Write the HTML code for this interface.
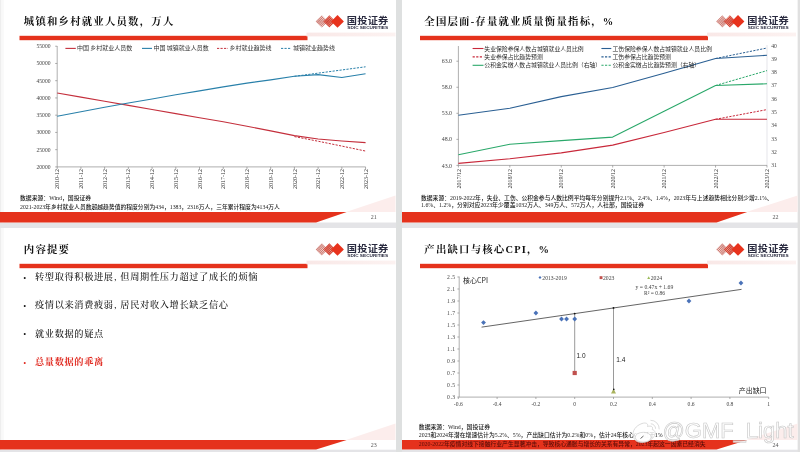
<!DOCTYPE html>
<html><head><meta charset="utf-8"><title>slides</title>
<style>html,body{margin:0;padding:0;background:#dcdcde;}body{width:800px;height:452px;overflow:hidden;}svg{display:block;}</style>
</head><body>
<svg width="800" height="452" viewBox="0 0 800 452">
<defs>
<pattern id="hatchA" patternUnits="userSpaceOnUse" width="1.6" height="1.6" patternTransform="rotate(45)">
<rect width="1.6" height="1.6" fill="#f7e0dc"/><rect width="0.5" height="1.6" fill="#b85048"/><rect width="1.6" height="0.45" fill="#c86a60"/></pattern>
<pattern id="hatchB" patternUnits="userSpaceOnUse" width="1.6" height="1.6" patternTransform="rotate(45)">
<rect width="1.6" height="1.6" fill="#f0a090"/><rect width="0.7" height="1.6" fill="#c8302a"/><rect width="1.6" height="0.6" fill="#d0402e"/></pattern>
<linearGradient id="pinkband" x1="0" x2="1" y1="0" y2="0"><stop offset="0" stop-color="#f9e8e7"/><stop offset="1" stop-color="#fcf2f1"/></linearGradient>
</defs>
<rect x="0.00" y="0.00" width="800.00" height="452.00" fill="#e4e4e7" />
<rect x="396.00" y="0.00" width="6.00" height="452.00" fill="#dee0e0" />
<rect x="797.60" y="0.00" width="2.40" height="452.00" fill="#e0e0e0" />
<rect x="0.00" y="0.00" width="396.00" height="222.50" fill="#fff" />
<rect x="402.00" y="0.00" width="395.60" height="222.50" fill="#fff" />
<rect x="0.00" y="228.00" width="396.00" height="221.70" fill="#fff" />
<rect x="402.00" y="228.00" width="395.60" height="221.70" fill="#fff" />
<rect x="0.00" y="0.00" width="1.40" height="222.50" fill="#eeeeee" />
<rect x="1.40" y="0.00" width="2.40" height="222.50" fill="#f9f9f9" />
<rect x="0.00" y="228.00" width="1.40" height="221.70" fill="#eeeeee" />
<rect x="1.40" y="228.00" width="2.40" height="221.70" fill="#f9f9f9" />
<text x="23.80" y="25.20" font-size="10.4" fill="#111" font-family="'Liberation Serif','Noto Serif CJK SC',serif" font-weight="bold" text-anchor="start" letter-spacing="1.2">城镇和乡村就业人员数，万人</text>
<rect x="19.50" y="35.80" width="288.00" height="4.40" fill="#e5321c" />
<rect x="306.50" y="32.60" width="89.00" height="3.80" fill="url(#pinkband)" />
<path d="M315.60,21.40 L321.80,15.20 L328.00,21.40 L321.80,27.60 Z" fill="url(#hatchA)"/>
<path d="M323.20,21.40 L329.40,15.20 L335.60,21.40 L329.40,27.60 Z" fill="url(#hatchB)"/>
<path d="M331.10,21.40 L337.50,15.00 L343.90,21.40 L337.50,27.80 Z" fill="#e8321c"/>
<text transform="translate(346.80,23.75) scale(1.1,1)" font-size="9.3" fill="#2a2b40" font-family="'Noto Sans CJK SC',sans-serif" font-weight="bold" letter-spacing="0.2">国投证券</text>
<text x="347.30" y="28.50" font-size="4.3" fill="#2a2b40" font-family="'Liberation Sans','Noto Sans CJK SC',sans-serif" font-weight="bold" text-anchor="start" textLength="40.8" lengthAdjust="spacingAndGlyphs">SDIC SECURITIES</text>
<line x1="57.20" y1="46.00" x2="57.20" y2="167.20" stroke="#9a9a9a" stroke-width="0.8"/>
<line x1="57.20" y1="166.90" x2="365.60" y2="166.90" stroke="#9a9a9a" stroke-width="0.8"/>
<line x1="55.20" y1="166.90" x2="57.20" y2="166.90" stroke="#8a8a8a" stroke-width="0.7"/>
<text x="50.50" y="168.90" font-size="5.6" fill="#444" font-family="'Liberation Serif','Noto Serif CJK SC',serif" font-weight="normal" text-anchor="end" >20000</text>
<line x1="55.20" y1="149.66" x2="57.20" y2="149.66" stroke="#8a8a8a" stroke-width="0.7"/>
<text x="50.50" y="151.66" font-size="5.6" fill="#444" font-family="'Liberation Serif','Noto Serif CJK SC',serif" font-weight="normal" text-anchor="end" >25000</text>
<line x1="55.20" y1="132.42" x2="57.20" y2="132.42" stroke="#8a8a8a" stroke-width="0.7"/>
<text x="50.50" y="134.42" font-size="5.6" fill="#444" font-family="'Liberation Serif','Noto Serif CJK SC',serif" font-weight="normal" text-anchor="end" >30000</text>
<line x1="55.20" y1="115.18" x2="57.20" y2="115.18" stroke="#8a8a8a" stroke-width="0.7"/>
<text x="50.50" y="117.18" font-size="5.6" fill="#444" font-family="'Liberation Serif','Noto Serif CJK SC',serif" font-weight="normal" text-anchor="end" >35000</text>
<line x1="55.20" y1="97.94" x2="57.20" y2="97.94" stroke="#8a8a8a" stroke-width="0.7"/>
<text x="50.50" y="99.94" font-size="5.6" fill="#444" font-family="'Liberation Serif','Noto Serif CJK SC',serif" font-weight="normal" text-anchor="end" >40000</text>
<line x1="55.20" y1="80.70" x2="57.20" y2="80.70" stroke="#8a8a8a" stroke-width="0.7"/>
<text x="50.50" y="82.70" font-size="5.6" fill="#444" font-family="'Liberation Serif','Noto Serif CJK SC',serif" font-weight="normal" text-anchor="end" >45000</text>
<line x1="55.20" y1="63.46" x2="57.20" y2="63.46" stroke="#8a8a8a" stroke-width="0.7"/>
<text x="50.50" y="65.46" font-size="5.6" fill="#444" font-family="'Liberation Serif','Noto Serif CJK SC',serif" font-weight="normal" text-anchor="end" >50000</text>
<line x1="55.20" y1="46.22" x2="57.20" y2="46.22" stroke="#8a8a8a" stroke-width="0.7"/>
<text x="50.50" y="48.22" font-size="5.6" fill="#444" font-family="'Liberation Serif','Noto Serif CJK SC',serif" font-weight="normal" text-anchor="end" >55000</text>
<line x1="57.20" y1="166.90" x2="57.20" y2="169.00" stroke="#8a8a8a" stroke-width="0.7"/>
<text transform="translate(59.30,168.9) rotate(-90)" text-anchor="end" font-size="6.0" fill="#333" font-family="'Liberation Serif','Noto Serif CJK SC',serif">2010-12</text>
<line x1="80.92" y1="166.90" x2="80.92" y2="169.00" stroke="#8a8a8a" stroke-width="0.7"/>
<text transform="translate(83.02,168.9) rotate(-90)" text-anchor="end" font-size="6.0" fill="#333" font-family="'Liberation Serif','Noto Serif CJK SC',serif">2011-12</text>
<line x1="104.64" y1="166.90" x2="104.64" y2="169.00" stroke="#8a8a8a" stroke-width="0.7"/>
<text transform="translate(106.74,168.9) rotate(-90)" text-anchor="end" font-size="6.0" fill="#333" font-family="'Liberation Serif','Noto Serif CJK SC',serif">2012-12</text>
<line x1="128.36" y1="166.90" x2="128.36" y2="169.00" stroke="#8a8a8a" stroke-width="0.7"/>
<text transform="translate(130.46,168.9) rotate(-90)" text-anchor="end" font-size="6.0" fill="#333" font-family="'Liberation Serif','Noto Serif CJK SC',serif">2013-12</text>
<line x1="152.08" y1="166.90" x2="152.08" y2="169.00" stroke="#8a8a8a" stroke-width="0.7"/>
<text transform="translate(154.18,168.9) rotate(-90)" text-anchor="end" font-size="6.0" fill="#333" font-family="'Liberation Serif','Noto Serif CJK SC',serif">2014-12</text>
<line x1="175.80" y1="166.90" x2="175.80" y2="169.00" stroke="#8a8a8a" stroke-width="0.7"/>
<text transform="translate(177.90,168.9) rotate(-90)" text-anchor="end" font-size="6.0" fill="#333" font-family="'Liberation Serif','Noto Serif CJK SC',serif">2015-12</text>
<line x1="199.52" y1="166.90" x2="199.52" y2="169.00" stroke="#8a8a8a" stroke-width="0.7"/>
<text transform="translate(201.62,168.9) rotate(-90)" text-anchor="end" font-size="6.0" fill="#333" font-family="'Liberation Serif','Noto Serif CJK SC',serif">2016-12</text>
<line x1="223.24" y1="166.90" x2="223.24" y2="169.00" stroke="#8a8a8a" stroke-width="0.7"/>
<text transform="translate(225.34,168.9) rotate(-90)" text-anchor="end" font-size="6.0" fill="#333" font-family="'Liberation Serif','Noto Serif CJK SC',serif">2017-12</text>
<line x1="246.96" y1="166.90" x2="246.96" y2="169.00" stroke="#8a8a8a" stroke-width="0.7"/>
<text transform="translate(249.06,168.9) rotate(-90)" text-anchor="end" font-size="6.0" fill="#333" font-family="'Liberation Serif','Noto Serif CJK SC',serif">2018-12</text>
<line x1="270.68" y1="166.90" x2="270.68" y2="169.00" stroke="#8a8a8a" stroke-width="0.7"/>
<text transform="translate(272.78,168.9) rotate(-90)" text-anchor="end" font-size="6.0" fill="#333" font-family="'Liberation Serif','Noto Serif CJK SC',serif">2019-12</text>
<line x1="294.40" y1="166.90" x2="294.40" y2="169.00" stroke="#8a8a8a" stroke-width="0.7"/>
<text transform="translate(296.50,168.9) rotate(-90)" text-anchor="end" font-size="6.0" fill="#333" font-family="'Liberation Serif','Noto Serif CJK SC',serif">2020-12</text>
<line x1="318.12" y1="166.90" x2="318.12" y2="169.00" stroke="#8a8a8a" stroke-width="0.7"/>
<text transform="translate(320.22,168.9) rotate(-90)" text-anchor="end" font-size="6.0" fill="#333" font-family="'Liberation Serif','Noto Serif CJK SC',serif">2021-12</text>
<line x1="341.84" y1="166.90" x2="341.84" y2="169.00" stroke="#8a8a8a" stroke-width="0.7"/>
<text transform="translate(343.94,168.9) rotate(-90)" text-anchor="end" font-size="6.0" fill="#333" font-family="'Liberation Serif','Noto Serif CJK SC',serif">2022-12</text>
<line x1="365.56" y1="166.90" x2="365.56" y2="169.00" stroke="#8a8a8a" stroke-width="0.7"/>
<text transform="translate(367.66,168.9) rotate(-90)" text-anchor="end" font-size="6.0" fill="#333" font-family="'Liberation Serif','Noto Serif CJK SC',serif">2023-12</text>
<polyline points="57.20,93.00 80.92,97.10 104.64,101.30 128.36,105.40 152.08,109.50 175.80,113.60 199.52,117.70 223.24,121.80 246.96,126.20 270.68,130.90 294.40,135.60 318.12,139.00 341.84,141.00 365.56,142.60" fill="none" stroke="#c42f3c" stroke-width="1.1" stroke-linejoin="round"/>
<polyline points="57.20,116.26 80.92,111.72 104.64,107.29 128.36,103.02 152.08,98.96 175.80,94.78 199.52,90.87 223.24,86.88 246.96,83.14 270.68,79.84 294.40,76.32 318.12,74.59 341.84,77.49 365.56,73.69" fill="none" stroke="#2980aa" stroke-width="1.1" stroke-linejoin="round"/>
<polyline points="294.40,136.58 318.12,141.23 341.84,146.08 365.56,151.06" fill="none" stroke="#c42f3c" stroke-width="1.0" stroke-dasharray="2.2,1.3" stroke-linejoin="round"/>
<polyline points="294.40,76.32 318.12,73.15 341.84,69.97 365.56,66.80" fill="none" stroke="#2980aa" stroke-width="1.0" stroke-dasharray="2.2,1.3" stroke-linejoin="round"/>
<line x1="65.40" y1="48.40" x2="75.80" y2="48.40" stroke="#c42f3c" stroke-width="1.1"/>
<text x="77.00" y="50.40" font-size="6.0" fill="#333" font-family="'Noto Sans CJK SC',sans-serif" font-weight="normal" text-anchor="start" >中国 乡村就业人员数</text>
<line x1="142.00" y1="48.40" x2="152.00" y2="48.40" stroke="#2980aa" stroke-width="1.1"/>
<text x="153.50" y="50.40" font-size="6.0" fill="#333" font-family="'Noto Sans CJK SC',sans-serif" font-weight="normal" text-anchor="start" >中国 城镇就业人员数</text>
<line x1="217.00" y1="48.40" x2="228.00" y2="48.40" stroke="#c42f3c" stroke-width="1.0" stroke-dasharray="2.2,1.3"/>
<text x="229.50" y="50.40" font-size="6.0" fill="#333" font-family="'Noto Sans CJK SC',sans-serif" font-weight="normal" text-anchor="start" >乡村就业趋势线</text>
<line x1="281.00" y1="48.40" x2="291.50" y2="48.40" stroke="#2980aa" stroke-width="1.0" stroke-dasharray="2.2,1.3"/>
<text x="293.00" y="50.40" font-size="6.0" fill="#333" font-family="'Noto Sans CJK SC',sans-serif" font-weight="normal" text-anchor="start" >城镇就业趋势线</text>
<text x="20.00" y="200.00" font-size="5.85" fill="#1a1a1a" font-family="'Liberation Serif','Noto Sans CJK SC',sans-serif" font-weight="500" text-anchor="start" >数据来源：Wind，国投证券</text>
<text x="20.00" y="209.20" font-size="5.8" fill="#1a1a1a" font-family="'Liberation Serif','Noto Sans CJK SC',sans-serif" font-weight="500" text-anchor="start" >2021-2023年乡村就业人员数超越趋势值的程度分别为434，1383，2316万人，三年累计程度为4134万人</text>
<path d="M346.00,212.00 L395.50,195.50 L395.50,212.00 Z" fill="#fcedec"/>
<path d="M0.00,212.00 L346.70,212.00 L316.10,222.50 L0.00,222.50 Z" fill="#e5321c"/>
<text x="370.80" y="219.20" font-size="6" fill="#555" font-family="'Liberation Serif','Noto Serif CJK SC',serif" font-weight="normal" text-anchor="start" >21</text>
<text x="424.30" y="25.20" font-size="10.4" fill="#111" font-family="'Liberation Serif','Noto Serif CJK SC',serif" font-weight="bold" text-anchor="start" letter-spacing="1.2">全国层面-存量就业质量衡量指标，%</text>
<rect x="420.00" y="35.80" width="288.00" height="4.40" fill="#e5321c" />
<rect x="707.00" y="32.60" width="89.00" height="3.80" fill="url(#pinkband)" />
<path d="M716.10,21.40 L722.30,15.20 L728.50,21.40 L722.30,27.60 Z" fill="url(#hatchA)"/>
<path d="M723.70,21.40 L729.90,15.20 L736.10,21.40 L729.90,27.60 Z" fill="url(#hatchB)"/>
<path d="M731.60,21.40 L738.00,15.00 L744.40,21.40 L738.00,27.80 Z" fill="#e8321c"/>
<text transform="translate(747.30,23.75) scale(1.1,1)" font-size="9.3" fill="#2a2b40" font-family="'Noto Sans CJK SC',sans-serif" font-weight="bold" letter-spacing="0.2">国投证券</text>
<text x="747.80" y="28.50" font-size="4.3" fill="#2a2b40" font-family="'Liberation Sans','Noto Sans CJK SC',sans-serif" font-weight="bold" text-anchor="start" textLength="40.8" lengthAdjust="spacingAndGlyphs">SDIC SECURITIES</text>
<line x1="458.40" y1="46.00" x2="458.40" y2="165.60" stroke="#9a9a9a" stroke-width="0.8"/>
<line x1="767.00" y1="45.00" x2="767.00" y2="165.60" stroke="#d4d4dc" stroke-width="0.6"/>
<line x1="458.40" y1="165.40" x2="767.00" y2="165.40" stroke="#9a9a9a" stroke-width="0.8"/>
<line x1="456.40" y1="165.40" x2="458.40" y2="165.40" stroke="#8a8a8a" stroke-width="0.7"/>
<text x="452.00" y="167.50" font-size="5.9" fill="#444" font-family="'Liberation Serif','Noto Serif CJK SC',serif" font-weight="normal" text-anchor="end" >43.0</text>
<line x1="456.40" y1="139.35" x2="458.40" y2="139.35" stroke="#8a8a8a" stroke-width="0.7"/>
<text x="452.00" y="141.45" font-size="5.9" fill="#444" font-family="'Liberation Serif','Noto Serif CJK SC',serif" font-weight="normal" text-anchor="end" >48.0</text>
<line x1="456.40" y1="113.30" x2="458.40" y2="113.30" stroke="#8a8a8a" stroke-width="0.7"/>
<text x="452.00" y="115.40" font-size="5.9" fill="#444" font-family="'Liberation Serif','Noto Serif CJK SC',serif" font-weight="normal" text-anchor="end" >53.0</text>
<line x1="456.40" y1="87.25" x2="458.40" y2="87.25" stroke="#8a8a8a" stroke-width="0.7"/>
<text x="452.00" y="89.35" font-size="5.9" fill="#444" font-family="'Liberation Serif','Noto Serif CJK SC',serif" font-weight="normal" text-anchor="end" >58.0</text>
<line x1="456.40" y1="61.20" x2="458.40" y2="61.20" stroke="#8a8a8a" stroke-width="0.7"/>
<text x="452.00" y="63.30" font-size="5.9" fill="#444" font-family="'Liberation Serif','Noto Serif CJK SC',serif" font-weight="normal" text-anchor="end" >63.0</text>
<text x="771.30" y="167.40" font-size="5.6" fill="#444" font-family="'Liberation Serif','Noto Serif CJK SC',serif" font-weight="normal" text-anchor="start" >31</text>
<text x="771.30" y="154.08" font-size="5.6" fill="#444" font-family="'Liberation Serif','Noto Serif CJK SC',serif" font-weight="normal" text-anchor="start" >32</text>
<text x="771.30" y="140.76" font-size="5.6" fill="#444" font-family="'Liberation Serif','Noto Serif CJK SC',serif" font-weight="normal" text-anchor="start" >33</text>
<text x="771.30" y="127.44" font-size="5.6" fill="#444" font-family="'Liberation Serif','Noto Serif CJK SC',serif" font-weight="normal" text-anchor="start" >34</text>
<text x="771.30" y="114.12" font-size="5.6" fill="#444" font-family="'Liberation Serif','Noto Serif CJK SC',serif" font-weight="normal" text-anchor="start" >35</text>
<text x="771.30" y="100.80" font-size="5.6" fill="#444" font-family="'Liberation Serif','Noto Serif CJK SC',serif" font-weight="normal" text-anchor="start" >36</text>
<text x="771.30" y="87.48" font-size="5.6" fill="#444" font-family="'Liberation Serif','Noto Serif CJK SC',serif" font-weight="normal" text-anchor="start" >37</text>
<text x="771.30" y="74.16" font-size="5.6" fill="#444" font-family="'Liberation Serif','Noto Serif CJK SC',serif" font-weight="normal" text-anchor="start" >38</text>
<text x="771.30" y="60.84" font-size="5.6" fill="#444" font-family="'Liberation Serif','Noto Serif CJK SC',serif" font-weight="normal" text-anchor="start" >39</text>
<text x="771.30" y="47.52" font-size="5.6" fill="#444" font-family="'Liberation Serif','Noto Serif CJK SC',serif" font-weight="normal" text-anchor="start" >40</text>
<line x1="458.40" y1="165.40" x2="458.40" y2="167.50" stroke="#8a8a8a" stroke-width="0.7"/>
<text transform="translate(460.50,168.9) rotate(-90)" text-anchor="end" font-size="6.0" fill="#333" font-family="'Liberation Serif','Noto Serif CJK SC',serif">2017/12</text>
<line x1="509.83" y1="165.40" x2="509.83" y2="167.50" stroke="#8a8a8a" stroke-width="0.7"/>
<text transform="translate(511.93,168.9) rotate(-90)" text-anchor="end" font-size="6.0" fill="#333" font-family="'Liberation Serif','Noto Serif CJK SC',serif">2018/12</text>
<line x1="561.26" y1="165.40" x2="561.26" y2="167.50" stroke="#8a8a8a" stroke-width="0.7"/>
<text transform="translate(563.36,168.9) rotate(-90)" text-anchor="end" font-size="6.0" fill="#333" font-family="'Liberation Serif','Noto Serif CJK SC',serif">2019/12</text>
<line x1="612.69" y1="165.40" x2="612.69" y2="167.50" stroke="#8a8a8a" stroke-width="0.7"/>
<text transform="translate(614.79,168.9) rotate(-90)" text-anchor="end" font-size="6.0" fill="#333" font-family="'Liberation Serif','Noto Serif CJK SC',serif">2020/12</text>
<line x1="664.12" y1="165.40" x2="664.12" y2="167.50" stroke="#8a8a8a" stroke-width="0.7"/>
<text transform="translate(666.22,168.9) rotate(-90)" text-anchor="end" font-size="6.0" fill="#333" font-family="'Liberation Serif','Noto Serif CJK SC',serif">2021/12</text>
<line x1="715.55" y1="165.40" x2="715.55" y2="167.50" stroke="#8a8a8a" stroke-width="0.7"/>
<text transform="translate(717.65,168.9) rotate(-90)" text-anchor="end" font-size="6.0" fill="#333" font-family="'Liberation Serif','Noto Serif CJK SC',serif">2022/12</text>
<line x1="766.98" y1="165.40" x2="766.98" y2="167.50" stroke="#8a8a8a" stroke-width="0.7"/>
<text transform="translate(769.08,168.9) rotate(-90)" text-anchor="end" font-size="6.0" fill="#333" font-family="'Liberation Serif','Noto Serif CJK SC',serif">2023/12</text>
<polyline points="458.40,115.30 509.83,108.20 561.26,96.60 612.69,87.50 664.12,73.20 715.55,58.50 766.98,55.30" fill="none" stroke="#2a5f93" stroke-width="1.1" stroke-linejoin="round"/>
<polyline points="715.55,58.50 766.98,48.00" fill="none" stroke="#2a5f93" stroke-width="1.0" stroke-dasharray="2.2,1.3" stroke-linejoin="round"/>
<polyline points="458.40,154.80 509.83,144.20 561.26,140.60 612.69,137.10 664.12,111.30 715.55,85.50 766.98,83.80" fill="none" stroke="#2aa86a" stroke-width="1.1" stroke-linejoin="round"/>
<polyline points="715.55,85.50 766.98,70.60" fill="none" stroke="#2aa86a" stroke-width="1.0" stroke-dasharray="2.2,1.3" stroke-linejoin="round"/>
<polyline points="458.40,163.40 509.83,158.80 561.26,152.90 612.69,145.10 664.12,132.50 715.55,119.30 766.98,119.30" fill="none" stroke="#c8283a" stroke-width="1.1" stroke-linejoin="round"/>
<polyline points="715.55,119.30 766.98,109.60" fill="none" stroke="#c8283a" stroke-width="1.0" stroke-dasharray="2.2,1.3" stroke-linejoin="round"/>
<line x1="472.60" y1="48.50" x2="483.50" y2="48.50" stroke="#c8283a" stroke-width="1.1"/>
<text x="484.30" y="50.60" font-size="5.85" fill="#2a2a2a" font-family="'Noto Sans CJK SC',sans-serif" font-weight="normal" text-anchor="start" >失业保险参保人数占城镇就业人员比例</text>
<line x1="472.60" y1="56.90" x2="483.50" y2="56.90" stroke="#c8283a" stroke-width="1.1" stroke-dasharray="2.2,1.4"/>
<text x="484.30" y="59.00" font-size="5.85" fill="#2a2a2a" font-family="'Noto Sans CJK SC',sans-serif" font-weight="normal" text-anchor="start" >失业参保占比趋势预测</text>
<line x1="472.60" y1="65.30" x2="483.50" y2="65.30" stroke="#2aa86a" stroke-width="1.1"/>
<text x="484.30" y="67.40" font-size="5.85" fill="#2a2a2a" font-family="'Noto Sans CJK SC',sans-serif" font-weight="normal" text-anchor="start" >公积金实缴人数占城镇就业人员比例（右轴）</text>
<line x1="601.40" y1="48.50" x2="611.30" y2="48.50" stroke="#2a5f93" stroke-width="1.1"/>
<text x="612.50" y="50.60" font-size="5.85" fill="#2a2a2a" font-family="'Noto Sans CJK SC',sans-serif" font-weight="normal" text-anchor="start" >工伤保险参保人数占城镇就业人员比例</text>
<line x1="601.40" y1="56.90" x2="611.30" y2="56.90" stroke="#2a5f93" stroke-width="1.1" stroke-dasharray="2.2,1.4"/>
<text x="612.50" y="59.00" font-size="5.85" fill="#2a2a2a" font-family="'Noto Sans CJK SC',sans-serif" font-weight="normal" text-anchor="start" >工伤参保占比趋势预测</text>
<line x1="601.40" y1="65.30" x2="611.30" y2="65.30" stroke="#2aa86a" stroke-width="1.1" stroke-dasharray="2.2,1.4"/>
<text x="612.50" y="67.40" font-size="5.85" fill="#2a2a2a" font-family="'Noto Sans CJK SC',sans-serif" font-weight="normal" text-anchor="start" >公积金实缴占比趋势预测（右轴）</text>
<text x="421.00" y="199.50" font-size="5.8" fill="#1a1a1a" font-family="'Liberation Serif','Noto Sans CJK SC',sans-serif" font-weight="500" text-anchor="start" >数据来源：2019-2022年，失业、工伤、公积金参与人数比例平均每年分别提升2.1%、2.4%、1.4%，2023年与上述趋势相比分别少增2.1%、</text>
<text x="421.00" y="206.50" font-size="5.85" fill="#1a1a1a" font-family="'Liberation Serif','Noto Sans CJK SC',sans-serif" font-weight="500" text-anchor="start" >1.6%、1.2%，分别对应2023年少覆盖1032万人、349万人、572万人，人社部，国投证券</text>
<path d="M746.50,212.00 L797.60,195.50 L797.60,212.00 Z" fill="#fcedec"/>
<path d="M402.00,212.00 L747.20,212.00 L716.60,222.50 L402.00,222.50 Z" fill="#e5321c"/>
<text x="772.50" y="219.20" font-size="6" fill="#555" font-family="'Liberation Serif','Noto Serif CJK SC',serif" font-weight="normal" text-anchor="start" >22</text>
<text x="23.80" y="253.20" font-size="10.4" fill="#111" font-family="'Liberation Serif','Noto Serif CJK SC',serif" font-weight="bold" text-anchor="start" letter-spacing="1.2">内容提要</text>
<rect x="19.50" y="263.80" width="288.00" height="4.40" fill="#e5321c" />
<rect x="306.50" y="260.60" width="89.00" height="3.80" fill="url(#pinkband)" />
<path d="M315.60,249.40 L321.80,243.20 L328.00,249.40 L321.80,255.60 Z" fill="url(#hatchA)"/>
<path d="M323.20,249.40 L329.40,243.20 L335.60,249.40 L329.40,255.60 Z" fill="url(#hatchB)"/>
<path d="M331.10,249.40 L337.50,243.00 L343.90,249.40 L337.50,255.80 Z" fill="#e8321c"/>
<text transform="translate(346.80,251.75) scale(1.1,1)" font-size="9.3" fill="#2a2b40" font-family="'Noto Sans CJK SC',sans-serif" font-weight="bold" letter-spacing="0.2">国投证券</text>
<text x="347.30" y="256.50" font-size="4.3" fill="#2a2b40" font-family="'Liberation Sans','Noto Sans CJK SC',sans-serif" font-weight="bold" text-anchor="start" textLength="40.8" lengthAdjust="spacingAndGlyphs">SDIC SECURITIES</text>
<text x="23.50" y="279.80" font-size="7" fill="#111" font-family="'Liberation Sans','Noto Sans CJK SC',sans-serif" font-weight="normal" text-anchor="start" >•</text>
<text x="35.00" y="280.10" font-size="9.2" fill="#111" font-family="'Noto Serif CJK SC',serif" font-weight="500" text-anchor="start" letter-spacing="0.65">转型取得积极进展, 但周期性压力超过了成长的烦恼</text>
<text x="23.50" y="307.70" font-size="7" fill="#111" font-family="'Liberation Sans','Noto Sans CJK SC',sans-serif" font-weight="normal" text-anchor="start" >•</text>
<text x="35.00" y="308.00" font-size="9.2" fill="#111" font-family="'Noto Serif CJK SC',serif" font-weight="500" text-anchor="start" letter-spacing="0.65">疫情以来消费疲弱, 居民对收入增长缺乏信心</text>
<text x="23.50" y="336.40" font-size="7" fill="#111" font-family="'Liberation Sans','Noto Sans CJK SC',sans-serif" font-weight="normal" text-anchor="start" >•</text>
<text x="35.00" y="336.70" font-size="9.2" fill="#111" font-family="'Noto Serif CJK SC',serif" font-weight="500" text-anchor="start" letter-spacing="0.65">就业数据的疑点</text>
<text x="23.50" y="365.00" font-size="7" fill="#e0281e" font-family="'Liberation Sans','Noto Sans CJK SC',sans-serif" font-weight="normal" text-anchor="start" >•</text>
<text x="35.00" y="365.30" font-size="9.2" fill="#e0281e" font-family="'Noto Serif CJK SC',serif" font-weight="bold" text-anchor="start" letter-spacing="0.65">总量数据的乖离</text>
<path d="M346.00,440.00 L395.50,423.50 L395.50,440.00 Z" fill="#fcedec"/>
<path d="M0.00,440.00 L346.70,440.00 L316.10,449.50 L0.00,449.50 Z" fill="#e5321c"/>
<text x="370.80" y="447.20" font-size="6" fill="#555" font-family="'Liberation Serif','Noto Serif CJK SC',serif" font-weight="normal" text-anchor="start" >23</text>
<text x="424.30" y="253.20" font-size="10.4" fill="#111" font-family="'Liberation Serif','Noto Serif CJK SC',serif" font-weight="bold" text-anchor="start" letter-spacing="1.2">产出缺口与核心CPI，%</text>
<rect x="420.00" y="263.80" width="288.00" height="4.40" fill="#e5321c" />
<rect x="707.00" y="260.60" width="89.00" height="3.80" fill="url(#pinkband)" />
<path d="M716.10,249.40 L722.30,243.20 L728.50,249.40 L722.30,255.60 Z" fill="url(#hatchA)"/>
<path d="M723.70,249.40 L729.90,243.20 L736.10,249.40 L729.90,255.60 Z" fill="url(#hatchB)"/>
<path d="M731.60,249.40 L738.00,243.00 L744.40,249.40 L738.00,255.80 Z" fill="#e8321c"/>
<text transform="translate(747.30,251.75) scale(1.1,1)" font-size="9.3" fill="#2a2b40" font-family="'Noto Sans CJK SC',sans-serif" font-weight="bold" letter-spacing="0.2">国投证券</text>
<text x="747.80" y="256.50" font-size="4.3" fill="#2a2b40" font-family="'Liberation Sans','Noto Sans CJK SC',sans-serif" font-weight="bold" text-anchor="start" textLength="40.8" lengthAdjust="spacingAndGlyphs">SDIC SECURITIES</text>
<line x1="459.20" y1="276.50" x2="459.20" y2="397.30" stroke="#9a9a9a" stroke-width="0.8"/>
<line x1="459.20" y1="397.10" x2="768.70" y2="397.10" stroke="#9a9a9a" stroke-width="0.8"/>
<line x1="457.40" y1="397.00" x2="459.20" y2="397.00" stroke="#8a8a8a" stroke-width="0.7"/>
<text x="455.60" y="399.00" font-size="5.6" fill="#444" font-family="'Liberation Serif','Noto Serif CJK SC',serif" font-weight="normal" text-anchor="end" letter-spacing="0.5">0.3</text>
<line x1="457.40" y1="385.00" x2="459.20" y2="385.00" stroke="#8a8a8a" stroke-width="0.7"/>
<text x="455.60" y="387.00" font-size="5.6" fill="#444" font-family="'Liberation Serif','Noto Serif CJK SC',serif" font-weight="normal" text-anchor="end" letter-spacing="0.5">0.5</text>
<line x1="457.40" y1="373.00" x2="459.20" y2="373.00" stroke="#8a8a8a" stroke-width="0.7"/>
<text x="455.60" y="375.00" font-size="5.6" fill="#444" font-family="'Liberation Serif','Noto Serif CJK SC',serif" font-weight="normal" text-anchor="end" letter-spacing="0.5">0.7</text>
<line x1="457.40" y1="361.00" x2="459.20" y2="361.00" stroke="#8a8a8a" stroke-width="0.7"/>
<text x="455.60" y="363.00" font-size="5.6" fill="#444" font-family="'Liberation Serif','Noto Serif CJK SC',serif" font-weight="normal" text-anchor="end" letter-spacing="0.5">0.9</text>
<line x1="457.40" y1="349.00" x2="459.20" y2="349.00" stroke="#8a8a8a" stroke-width="0.7"/>
<text x="455.60" y="351.00" font-size="5.6" fill="#444" font-family="'Liberation Serif','Noto Serif CJK SC',serif" font-weight="normal" text-anchor="end" letter-spacing="0.5">1.1</text>
<line x1="457.40" y1="337.00" x2="459.20" y2="337.00" stroke="#8a8a8a" stroke-width="0.7"/>
<text x="455.60" y="339.00" font-size="5.6" fill="#444" font-family="'Liberation Serif','Noto Serif CJK SC',serif" font-weight="normal" text-anchor="end" letter-spacing="0.5">1.3</text>
<line x1="457.40" y1="325.00" x2="459.20" y2="325.00" stroke="#8a8a8a" stroke-width="0.7"/>
<text x="455.60" y="327.00" font-size="5.6" fill="#444" font-family="'Liberation Serif','Noto Serif CJK SC',serif" font-weight="normal" text-anchor="end" letter-spacing="0.5">1.5</text>
<line x1="457.40" y1="313.00" x2="459.20" y2="313.00" stroke="#8a8a8a" stroke-width="0.7"/>
<text x="455.60" y="315.00" font-size="5.6" fill="#444" font-family="'Liberation Serif','Noto Serif CJK SC',serif" font-weight="normal" text-anchor="end" letter-spacing="0.5">1.7</text>
<line x1="457.40" y1="301.00" x2="459.20" y2="301.00" stroke="#8a8a8a" stroke-width="0.7"/>
<text x="455.60" y="303.00" font-size="5.6" fill="#444" font-family="'Liberation Serif','Noto Serif CJK SC',serif" font-weight="normal" text-anchor="end" letter-spacing="0.5">1.9</text>
<line x1="457.40" y1="289.00" x2="459.20" y2="289.00" stroke="#8a8a8a" stroke-width="0.7"/>
<text x="455.60" y="291.00" font-size="5.6" fill="#444" font-family="'Liberation Serif','Noto Serif CJK SC',serif" font-weight="normal" text-anchor="end" letter-spacing="0.5">2.1</text>
<line x1="457.40" y1="277.00" x2="459.20" y2="277.00" stroke="#8a8a8a" stroke-width="0.7"/>
<text x="455.60" y="279.00" font-size="5.6" fill="#444" font-family="'Liberation Serif','Noto Serif CJK SC',serif" font-weight="normal" text-anchor="end" letter-spacing="0.5">2.5</text>
<line x1="458.30" y1="397.10" x2="458.30" y2="399.00" stroke="#8a8a8a" stroke-width="0.7"/>
<text x="458.30" y="405.50" font-size="5.6" fill="#444" font-family="'Liberation Serif','Noto Serif CJK SC',serif" font-weight="normal" text-anchor="middle" >-0.6</text>
<line x1="497.10" y1="397.10" x2="497.10" y2="399.00" stroke="#8a8a8a" stroke-width="0.7"/>
<text x="497.10" y="405.50" font-size="5.6" fill="#444" font-family="'Liberation Serif','Noto Serif CJK SC',serif" font-weight="normal" text-anchor="middle" >-0.4</text>
<line x1="535.90" y1="397.10" x2="535.90" y2="399.00" stroke="#8a8a8a" stroke-width="0.7"/>
<text x="535.90" y="405.50" font-size="5.6" fill="#444" font-family="'Liberation Serif','Noto Serif CJK SC',serif" font-weight="normal" text-anchor="middle" >-0.2</text>
<line x1="574.70" y1="397.10" x2="574.70" y2="399.00" stroke="#8a8a8a" stroke-width="0.7"/>
<text x="574.70" y="405.50" font-size="5.6" fill="#444" font-family="'Liberation Serif','Noto Serif CJK SC',serif" font-weight="normal" text-anchor="middle" >0</text>
<line x1="613.50" y1="397.10" x2="613.50" y2="399.00" stroke="#8a8a8a" stroke-width="0.7"/>
<text x="613.50" y="405.50" font-size="5.6" fill="#444" font-family="'Liberation Serif','Noto Serif CJK SC',serif" font-weight="normal" text-anchor="middle" >0.2</text>
<line x1="652.30" y1="397.10" x2="652.30" y2="399.00" stroke="#8a8a8a" stroke-width="0.7"/>
<text x="652.30" y="405.50" font-size="5.6" fill="#444" font-family="'Liberation Serif','Noto Serif CJK SC',serif" font-weight="normal" text-anchor="middle" >0.4</text>
<line x1="691.10" y1="397.10" x2="691.10" y2="399.00" stroke="#8a8a8a" stroke-width="0.7"/>
<text x="691.10" y="405.50" font-size="5.6" fill="#444" font-family="'Liberation Serif','Noto Serif CJK SC',serif" font-weight="normal" text-anchor="middle" >0.6</text>
<line x1="729.90" y1="397.10" x2="729.90" y2="399.00" stroke="#8a8a8a" stroke-width="0.7"/>
<text x="729.90" y="405.50" font-size="5.6" fill="#444" font-family="'Liberation Serif','Noto Serif CJK SC',serif" font-weight="normal" text-anchor="middle" >0.8</text>
<line x1="768.70" y1="397.10" x2="768.70" y2="399.00" stroke="#8a8a8a" stroke-width="0.7"/>
<text x="768.70" y="405.50" font-size="5.6" fill="#444" font-family="'Liberation Serif','Noto Serif CJK SC',serif" font-weight="normal" text-anchor="middle" >1</text>
<line x1="481.58" y1="327.14" x2="741.54" y2="289.35" stroke="#222" stroke-width="0.7"/>
<line x1="574.70" y1="313.60" x2="574.70" y2="373.00" stroke="#555" stroke-width="0.6"/>
<line x1="613.50" y1="307.96" x2="613.50" y2="391.00" stroke="#555" stroke-width="0.6"/>
<circle cx="574.70" cy="313.60" r="0.9" fill="#111"/>
<circle cx="613.50" cy="307.96" r="0.9" fill="#111"/>
<path d="M481.12,322.60 L483.52,320.20 L485.92,322.60 L483.52,325.00 Z" fill="#4a72b8"/>
<path d="M533.50,313.00 L535.90,310.60 L538.30,313.00 L535.90,315.40 Z" fill="#4a72b8"/>
<path d="M559.11,319.00 L561.51,316.60 L563.91,319.00 L561.51,321.40 Z" fill="#4a72b8"/>
<path d="M564.15,319.00 L566.55,316.60 L568.95,319.00 L566.55,321.40 Z" fill="#4a72b8"/>
<path d="M572.30,319.00 L574.70,316.60 L577.10,319.00 L574.70,321.40 Z" fill="#4a72b8"/>
<path d="M686.57,301.00 L688.97,298.60 L691.37,301.00 L688.97,303.40 Z" fill="#4a72b8"/>
<path d="M738.56,283.00 L740.96,280.60 L743.36,283.00 L740.96,285.40 Z" fill="#4a72b8"/>
<rect x="572.60" y="370.90" width="4.20" height="4.20" fill="#c0504d" />
<path d="M611.00,393.40 L613.50,388.80 L616.00,393.40 Z" fill="#aab35e"/>
<circle cx="613.80" cy="389.40" r="0.8" fill="#111"/>
<text x="576.50" y="357.50" font-size="6.5" fill="#222" font-family="'Liberation Sans','Noto Sans CJK SC',sans-serif" font-weight="normal" text-anchor="start" >1.0</text>
<text x="616.30" y="362.00" font-size="6.5" fill="#222" font-family="'Liberation Sans','Noto Sans CJK SC',sans-serif" font-weight="normal" text-anchor="start" >1.4</text>
<text x="463.00" y="283.20" font-size="7.0" fill="#222" font-family="'Noto Sans CJK SC',sans-serif" font-weight="normal" text-anchor="start" >核心CPI</text>
<text x="738.80" y="392.80" font-size="6.95" fill="#222" font-family="'Noto Sans CJK SC',sans-serif" font-weight="normal" text-anchor="start" >产出缺口</text>
<path d="M538.50,277.60 L540.00,276.10 L541.50,277.60 L540.00,279.10 Z" fill="#4a72b8"/>
<text x="542.30" y="279.60" font-size="5.7" fill="#444" font-family="'Liberation Serif','Noto Serif CJK SC',serif" font-weight="normal" text-anchor="start" >2013-2019</text>
<rect x="599.60" y="276.20" width="2.90" height="2.90" fill="#c0504d" />
<text x="603.00" y="279.60" font-size="5.7" fill="#444" font-family="'Liberation Serif','Noto Serif CJK SC',serif" font-weight="normal" text-anchor="start" >2023</text>
<path d="M647.2,279 L648.7,276.2 L650.2,279 Z" fill="#9bbb59"/>
<text x="650.70" y="279.60" font-size="5.7" fill="#444" font-family="'Liberation Serif','Noto Serif CJK SC',serif" font-weight="normal" text-anchor="start" >2024</text>
<text x="635.60" y="288.90" font-size="5.7" fill="#444" font-family="'Liberation Serif','Noto Serif CJK SC',serif" font-weight="normal" text-anchor="start" >y = 0.47x + 1.69</text>
<text x="644.00" y="294.80" font-size="5.6" fill="#444" font-family="'Liberation Serif','Noto Serif CJK SC',serif" font-weight="normal" text-anchor="start" >R² = 0.86</text>
<path d="M746.50,440.00 L797.60,423.50 L797.60,440.00 Z" fill="#fcedec"/>
<path d="M402.00,440.00 L747.20,440.00 L716.60,449.50 L402.00,449.50 Z" fill="#e5321c"/>
<text x="772.50" y="447.20" font-size="6" fill="#555" font-family="'Liberation Serif','Noto Serif CJK SC',serif" font-weight="normal" text-anchor="start" >24</text>
<text x="418.80" y="428.60" font-size="5.85" fill="#1a1a1a" font-family="'Liberation Serif','Noto Sans CJK SC',sans-serif" font-weight="500" text-anchor="start" >数据来源：Wind，国投证券</text>
<text x="418.80" y="437.40" font-size="5.85" fill="#1a1a1a" font-family="'Liberation Serif','Noto Sans CJK SC',sans-serif" font-weight="500" text-anchor="start" >2023和2024年潜在增速估计为5.2%、5%，产出缺口估计为0.2%和0%，估计24年核心CPI低于1%</text>
<text x="418.80" y="446.30" font-size="5.82" fill="#5a0d08" font-family="'Liberation Serif','Noto Sans CJK SC',sans-serif" font-weight="500" text-anchor="start" >2020-2022年疫情对线下接触行业产生显著冲击，导致核心通胀与增长的关系有异常，2023年起这一因素已经消失</text>
<g fill="#ffffff" stroke="#cfcfcf" stroke-width="0.75"><path d="M633.5,437 C631.5,431 636,425.5 642,423.5 C646,422.3 648.5,423.5 647.5,426.5 C651,425.5 653.5,426.5 652.2,429.5 C655.5,430.5 656,433.5 654,436.5 C651.5,440.5 645,443 639.5,442.3 C636.5,441.8 634.3,440 633.5,437 Z" fill-opacity="0.75"/><ellipse cx="643.2" cy="437.2" rx="8" ry="4.9" fill-opacity="0.9"/><path d="M650.5,420.3 A8.5,8.5 0 0 1 659.2,429.3" fill="none"/><path d="M650.8,423.8 A5,5 0 0 1 655.6,428.8" fill="none"/><path d="M640.5,438.5 L643.5,436" stroke="#555" stroke-width="0.9" fill="none"/></g>
<text x="662.5" y="437.8" font-size="21.8" fill="#ffffff" fill-opacity="0.85" stroke="#c6c6c6" stroke-width="0.6" font-family="'Liberation Sans','Noto Sans CJK SC',sans-serif" textLength="131" lengthAdjust="spacingAndGlyphs">@GMF_Light</text>
</svg>
</body></html>
